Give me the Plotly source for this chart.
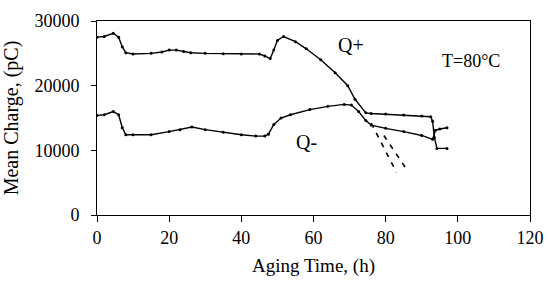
import plotly.graph_objects as go

# Q+ series (Aging time h, mean charge pC)
qp_x = [0, 2, 4.5, 6, 7, 8, 10, 15, 18, 20, 22, 24, 26, 30, 35, 40, 45, 46.5, 48, 49, 50, 51.7,
        55, 58, 62, 66, 69.5, 71.5, 74.5, 76, 80, 85, 90, 92.5, 93, 93.5, 94.2, 97]
qp_y = [27500, 27600, 28100, 27500, 26000, 25100, 24900, 25000, 25200, 25500, 25500, 25300, 25100,
        25000, 24950, 24900, 24900, 24600, 24200, 25500, 27000, 27600, 26800, 25700, 24000, 22000,
        20000, 17900, 15800, 15700, 15600, 15450, 15300, 15200, 14500, 12000, 10300, 10300]

# Q- series
qm_x = [0, 2, 4.5, 6, 7, 8, 10, 15, 20, 23, 26.3, 30, 35, 40, 44, 46.5, 47.5, 49, 51, 53.6, 59,
        64, 68.5, 70.5, 72.5, 74.5, 76, 80, 85, 90, 93, 93.8, 95, 97]
qm_y = [15400, 15500, 16000, 15500, 13500, 12400, 12400, 12400, 12900, 13200, 13600, 13200, 12800,
        12400, 12200, 12200, 12500, 14000, 15000, 15500, 16300, 16800, 17100, 17000, 16000, 14600,
        13900, 13400, 12900, 12300, 11700, 13100, 13300, 13500]

# extrapolation (dashed) lines
ex1_x = [76, 83]
ex1_y = [14200, 6600]
ex2_x = [79.5, 86]
ex2_y = [12300, 6900]

x_ticks = [0, 20, 40, 60, 80, 100, 120]
x_labels = ["0", "20", "40", "60", "80", "100", "120"]
y_ticks = [0, 10000, 20000, 30000]
y_labels = ["0", "10000", "20000", "30000"]

FONT = "Liberation Serif, Times New Roman, serif"

fig = go.Figure()
for xs, ys in [(qp_x, qp_y), (qm_x, qm_y)]:
    fig.add_trace(go.Scatter(x=xs, y=ys, mode="lines+markers",
                             line=dict(color="black", width=1.4),
                             marker=dict(color="black", size=3),
                             showlegend=False, hoverinfo="skip"))
for xs, ys in [(ex1_x, ex1_y), (ex2_x, ex2_y)]:
    fig.add_trace(go.Scatter(x=xs, y=ys, mode="lines",
                             line=dict(color="black", width=1.6, dash="5px,6px"),
                             showlegend=False, hoverinfo="skip"))

fig.add_annotation(x=70.5, y=26300, text="Q+", showarrow=False,
                   font=dict(family=FONT, size=20, color="black"))
fig.add_annotation(x=58, y=11300, text="Q-", showarrow=False,
                   font=dict(family=FONT, size=20, color="black"))
fig.add_annotation(x=103.6, y=23800, text="T=80°C", showarrow=False,
                   font=dict(family=FONT, size=18, color="black"))

fig.update_xaxes(range=[0, 120], tickmode="array", tickvals=x_ticks, ticktext=x_labels,
                 ticks="outside", ticklen=6, automargin=False,
                 tickcolor="black", showline=True, linecolor="black", linewidth=1,
                 mirror=True, showgrid=False, zeroline=False,
                 tickfont=dict(family=FONT, size=18, color="black"),
                 title=dict(text="Aging Time, (h)", standoff=12,
                            font=dict(family=FONT, size=19, color="black")))
fig.update_yaxes(range=[0, 30000], tickmode="array", tickvals=y_ticks, ticktext=y_labels,
                 ticks="outside", ticklen=5, ticklabelstandoff=8, automargin=False,
                 tickcolor="black", showline=True, linecolor="black", linewidth=1,
                 mirror=True, showgrid=False, zeroline=False,
                 tickfont=dict(family=FONT, size=18, color="black"),
                 title=dict(text="Mean Charge, (pC)", standoff=12,
                            font=dict(family=FONT, size=20, color="black")))

fig.update_layout(width=549, height=294, margin=dict(l=97, r=19, t=21, b=79),
                  plot_bgcolor="white", paper_bgcolor="white")

fig.write_html("out.html", config={"displayModeBar": False},
               post_script="document.body.style.margin='0px';")
